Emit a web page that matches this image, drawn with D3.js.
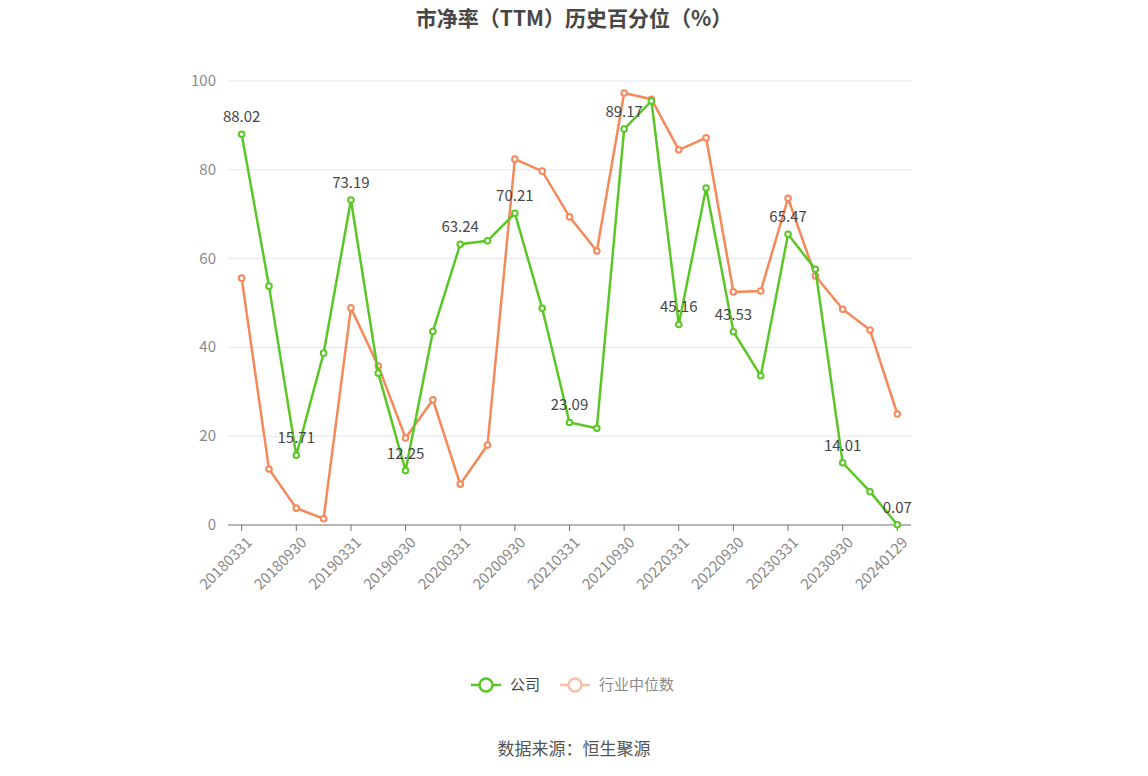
<!DOCTYPE html>
<html><head><meta charset="utf-8">
<script src="https://cdn.jsdelivr.net/npm/d3@7"></script>
<style>body{margin:0;background:#fff;font-family:"Noto Sans CJK SC","Noto Sans",sans-serif}</style>
</head><body><div id="chart"></div>
<script>
var dates = ["20180331","20180630","20180930","20181231","20190331","20190630","20190930","20191231",
  "20200331","20200630","20200930","20201231","20210331","20210630","20210930","20211231",
  "20220331","20220630","20220930","20221231","20230331","20230630","20230930","20231231","20240129"];
var company = [88.02,53.8,15.71,38.7,73.19,34.2,12.25,43.6,63.24,64.0,70.21,48.8,23.09,21.8,89.17,95.5,45.16,75.9,43.53,33.6,65.47,57.6,14.01,7.5,0.07];
var industry = [55.6,12.6,3.8,1.4,48.9,35.8,19.6,28.2,9.2,18.0,82.4,79.7,69.4,61.7,97.3,95.9,84.5,87.2,52.5,52.7,73.6,56.1,48.6,43.9,25.0];
var yTicks = [0,20,40,60,80,100];

var w = 1148, h = 776;
var svg = d3.select("#chart").append("svg").attr("width", w).attr("height", h);
var x = d3.scaleBand().domain(dates).range([228, 911]);
var y = d3.scaleLinear().domain([0, 100]).range([525, 81]);
function cx(d){ return x(d) + x.bandwidth()/2; }

svg.append("text").attr("x", 574).attr("y", 26).attr("text-anchor", "middle")
  .attr("font-size", 21).attr("font-weight", "bold").attr("fill", "#464646")
  .text("市净率（TTM）历史百分位（%）");

svg.selectAll(".grid").data(yTicks).enter().append("line")
  .attr("x1", 228).attr("x2", 911).attr("y1", d => y(d)).attr("y2", d => y(d))
  .attr("stroke", d => d === 0 ? "#6e7079" : "#e0e6f1");
svg.selectAll(".yl").data(yTicks).enter().append("text")
  .attr("x", 216).attr("y", d => y(d) + 5).attr("text-anchor", "end")
  .attr("font-size", 15).attr("fill", "#8a8a8a").text(d => d);

dates.forEach(function(d, i){
  if (i % 2) return;
  svg.append("line").attr("x1", cx(d)).attr("x2", cx(d)).attr("y1", 525).attr("y2", 531).attr("stroke", "#6e7079");
  svg.append("text").attr("transform", "translate(" + (cx(d) + 4) + ",536) rotate(-45)")
    .attr("text-anchor", "end").attr("dy", "0.7em").attr("font-size", 15).attr("fill", "#8a8a8a").text(d);
});

var line = d3.line().x((v, i) => cx(dates[i])).y(v => y(v));
function series(vals, color){
  svg.append("path").datum(vals).attr("d", line).attr("fill", "none").attr("stroke", color).attr("stroke-width", 2.5);
  svg.selectAll(null).data(vals).enter().append("circle")
    .attr("cx", (v, i) => cx(dates[i])).attr("cy", v => y(v)).attr("r", 2.8)
    .attr("fill", "#fff").attr("stroke", color).attr("stroke-width", 2);
}
series(industry, "#f5895a");
series(company, "#5ac726");

company.forEach(function(v, i){
  if (i % 2) return;
  svg.append("text").attr("x", cx(dates[i])).attr("y", y(v) - 12).attr("text-anchor", "middle")
    .attr("font-size", 15).attr("fill", "#464646").text(v.toFixed(2));
});

// legend
var lg = svg.append("g");
lg.append("line").attr("x1", 471).attr("x2", 501).attr("y1", 685).attr("y2", 685).attr("stroke", "#5ac726").attr("stroke-width", 2.5);
lg.append("circle").attr("cx", 486).attr("cy", 685).attr("r", 6.5).attr("fill", "#fff").attr("stroke", "#5ac726").attr("stroke-width", 2.5);
lg.append("text").attr("x", 510).attr("y", 690).attr("font-size", 15).attr("fill", "#464646").text("公司");
lg.append("line").attr("x1", 560).attr("x2", 590).attr("y1", 685).attr("y2", 685).attr("stroke", "#f9c0a5").attr("stroke-width", 2.5);
lg.append("circle").attr("cx", 575).attr("cy", 685).attr("r", 6.5).attr("fill", "#fff").attr("stroke", "#f9c0a5").attr("stroke-width", 2.5);
lg.append("text").attr("x", 599).attr("y", 690).attr("font-size", 15).attr("fill", "#8a8a8a").text("行业中位数");

svg.append("text").attr("x", 574).attr("y", 755).attr("text-anchor", "middle")
  .attr("font-size", 17).attr("fill", "#555").text("数据来源：恒生聚源");
</script></body></html>
